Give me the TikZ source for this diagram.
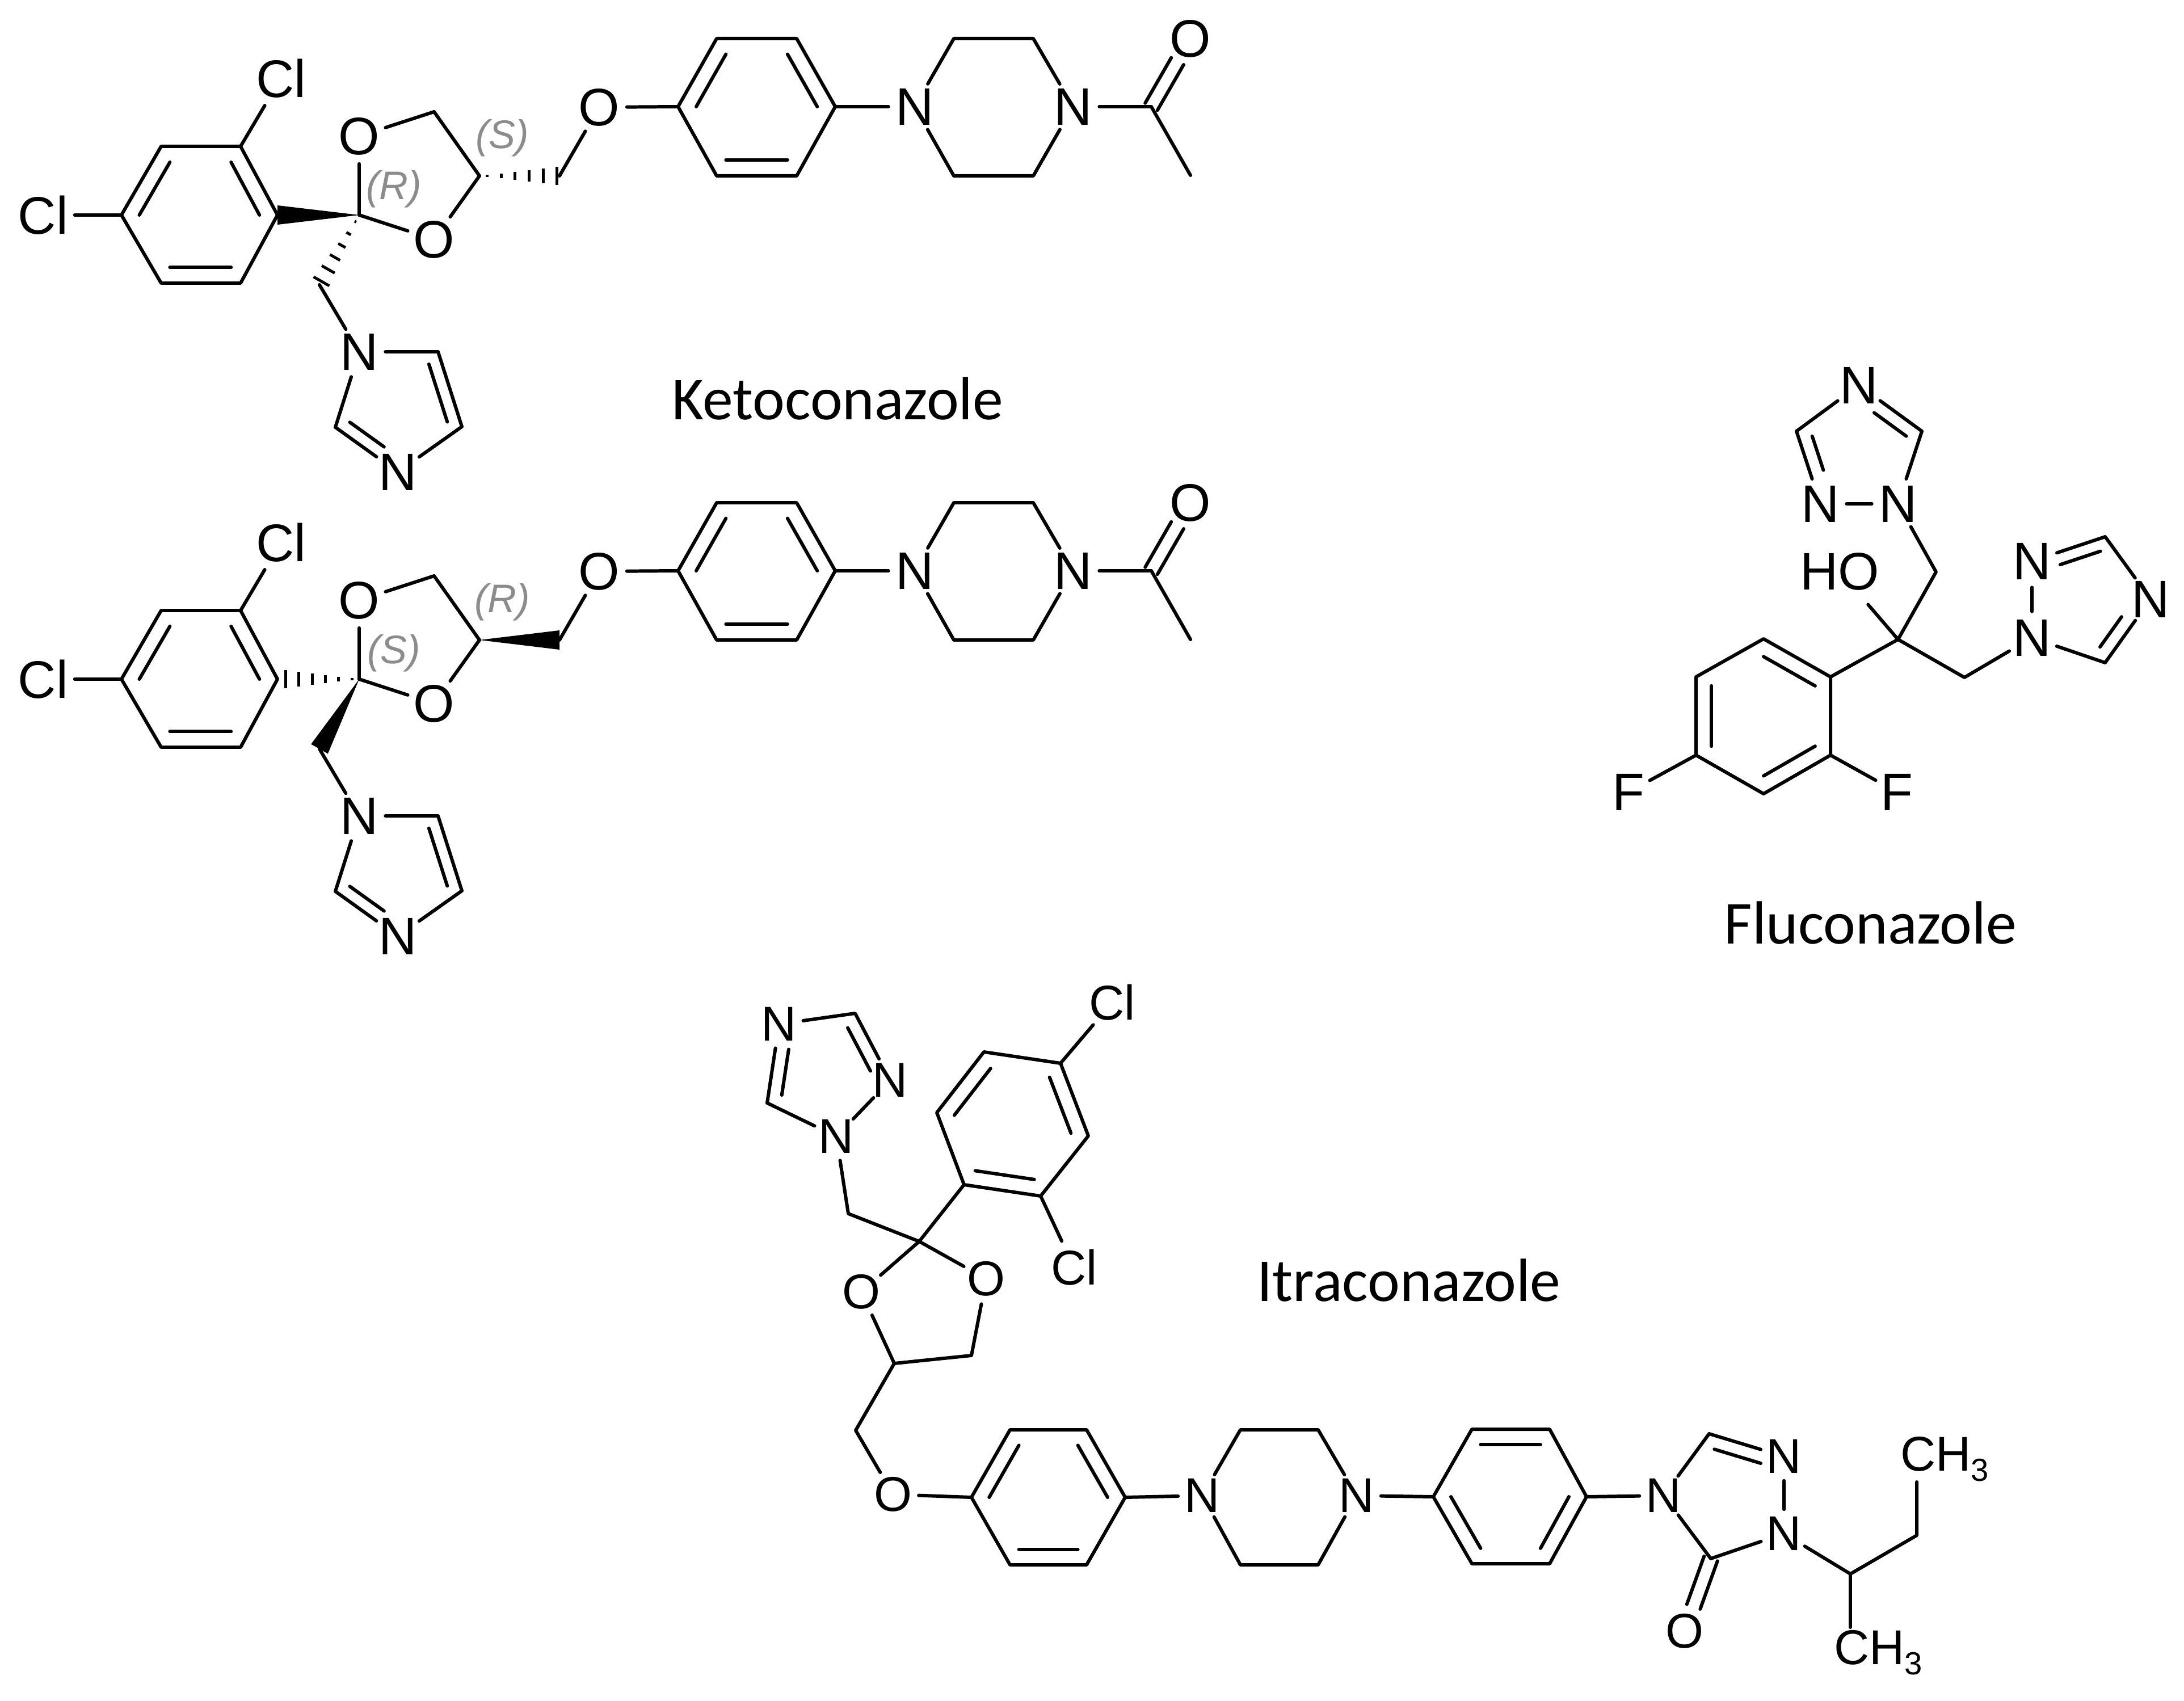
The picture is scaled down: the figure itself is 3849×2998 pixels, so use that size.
\documentclass[tikz,border=0pt]{standalone}
\usepackage{fontspec}
\setmainfont{Liberation Sans}
\newfontfamily\capfont{Carlito}
\usetikzlibrary{calc}
\definecolor{stereogray}{gray}{0.55}
\tikzset{
  x=0.01cm,y=-0.01cm,
  bond/.style={line width=1.7pt,line cap=round,line join=round,black},
  atom/.style={circle,inner sep=0pt,outer sep=0pt,font=\fontsize{26.5pt}{28pt}\selectfont},
  atomi/.style={atom,font=\fontsize{24.5pt}{26pt}\selectfont},
  free/.style={inner sep=0pt,outer sep=0pt,font=\fontsize{24.5pt}{26pt}\selectfont},
  caption/.style={anchor=base west,inner sep=0pt,font=\capfont\fontsize{30.6pt}{34pt}\selectfont},
  stereo/.style={inner sep=0pt,text=stereogray,font=\fontsize{20pt}{22pt}\selectfont\itshape},
}
% inner line of a double bond: a, b, ring centre, shrink factor; optional trim at b
\newcommand\innerl[4][0]{\draw[bond,shorten >=#1*0.01cm] ($(#4.center)!.77!(#2.center)$) -- ($(#4.center)!.77!(#3.center)$);}
% outer double bond straddling the bond axis, trimmed at b
\newcommand\dblout[2]{%
  \draw[bond,shorten >=46*0.01cm] ($(#1.center)!0.125cm!90:(#2.center)$) -- ($(#2.center)!0.125cm!-90:(#1.center)$);
  \draw[bond,shorten >=46*0.01cm] ($(#1.center)!0.125cm!-90:(#2.center)$) -- ($(#2.center)!0.125cm!90:(#1.center)$);}
% bold wedge, tip at a, wide at b
\newcommand\boldw[2]{\fill[black] (#1.center) -- ($(#2.center)!0.17cm!90:(#1.center)$) -- ($(#2.center)!0.17cm!-90:(#1.center)$) -- cycle;}
% hashed wedge, tip at a, wide at b
\newcommand\hashw[3][1]{\foreach \f in {.1,.28,.46,.64,.82,1}{%
  \pgfmathsetmacro\w{\f*0.16}%
  \pgfmathsetmacro\g{\f*#1}%
  \draw[line width=1.4pt,black] ($(#2.center)!\g!(#3.center)!\w cm!90:(#2.center)$) -- ($(#2.center)!\g!(#3.center)!\w cm!-90:(#2.center)$);}}
% one ketoconazole skeleton
\newcommand\keto[3]{%
  \coordinate (#1a1) at (214,379); \coordinate (#1a2) at (284,258); \coordinate (#1a3) at (424,258);
  \coordinate (#1a4) at (489,379); \coordinate (#1a5) at (424,499); \coordinate (#1a6) at (284,499);
  \coordinate (#1ac) at (351,379);
  \node[atom] (#1cla) at (495,138) {Cl};
  \node[atom] (#1clb) at (76,379) {Cl};
  \node[atom] (#1o1) at (633,240) {O};
  \node[atom] (#1o2) at (765,422) {O};
  \coordinate (#1q) at (633,379);
  \coordinate (#1ch) at (765,197);
  \coordinate (#1c4) at (845,310);
  \coordinate (#1cm) at (986,310);
  \coordinate (#1ci) at (563,502);
  \node[atom] (#1o3) at (1056,189) {O};
  \node[atom] (#1ni) at (633,620) {N};
  \coordinate (#1i2) at (772,620); \coordinate (#1i3) at (814,752);
  \node[atom] (#1nj) at (701,832) {N};
  \coordinate (#1i5) at (591,753); \coordinate (#1ic) at (702,715);
  \coordinate (#1b1) at (1195,188); \coordinate (#1b2) at (1263,68); \coordinate (#1b3) at (1404,68);
  \coordinate (#1b4) at (1472,188); \coordinate (#1b5) at (1404,310); \coordinate (#1b6) at (1263,310);
  \coordinate (#1bc) at (1334,188);
  \node[atom] (#1n1) at (1612,188) {N};
  \node[atom] (#1n2) at (1891,188) {N};
  \coordinate (#1p2) at (1681,68); \coordinate (#1p3) at (1821,68);
  \coordinate (#1p5) at (1821,310); \coordinate (#1p6) at (1681,310);
  \coordinate (#1co) at (2029,188);
  \node[atom] (#1ok) at (2098,68) {O};
  \coordinate (#1me) at (2098,309);
  \draw[bond] (#1a1) -- (#1a2) -- (#1a3) -- (#1a4) -- (#1a5) -- (#1a6) -- cycle;
  \innerl{#1a1}{#1a2}{#1ac} \innerl{#1a3}{#1a4}{#1ac} \innerl{#1a5}{#1a6}{#1ac}
  \draw[bond] (#1a3) -- (#1cla);
  \draw[bond] (#1a1) -- (#1clb);
  \draw[bond] (#1q) -- (#1o1);
  \draw[bond] (#1q) -- (#1o2);
  \draw[bond] (#1o1) -- (#1ch) -- (#1c4) -- (#1o2);
  \draw[bond] (#1cm) -- (#1o3);
  \draw[bond] (#1ci) -- (#1ni);
  \draw[bond] (#1ni) -- (#1i2) -- (#1i3) -- (#1nj) -- (#1i5) -- (#1ni);
  \innerl{#1i3}{#1i2}{#1ic}
  \draw[bond,shorten >=30*0.01cm] ($(#1ic.center)!.77!(#1i5.center)$) -- ($(#1ic.center)!.77!(#1nj.center)$);
  \draw[bond] (#1o3) -- (#1b1);
  \draw[bond] (#1b1) -- (#1b2) -- (#1b3) -- (#1b4) -- (#1b5) -- (#1b6) -- cycle;
  \innerl{#1b1}{#1b2}{#1bc} \innerl{#1b3}{#1b4}{#1bc} \innerl{#1b5}{#1b6}{#1bc}
  \draw[bond] (#1b4) -- (#1n1);
  \draw[bond] (#1n1) -- (#1p2) -- (#1p3) -- (#1n2) -- (#1p5) -- (#1p6) -- (#1n1);
  \draw[bond] (#1n2) -- (#1co);
  \draw[bond] (#1co) -- (#1me);
  \dblout{#1co}{#1ok}
  \node[stereo] (#1sa) at (694,333) {(#2)};
  \node[stereo] (#1sb) at (885,243) {(#3)};
}
\begin{document}
\begin{tikzpicture}
\fill[white] (0,0) rectangle (3849,2998);
\useasboundingbox (0,0) rectangle (3849,2998);

% ---------- Ketoconazole, two stereoisomers
\keto{k}{R}{S}
\boldw{kq}{ka4}
\hashw[.95]{kq}{kci}
\hashw[.97]{kc4}{kcm}
\begin{scope}[shift={(0,818)}]
\keto{m}{S}{R}
\end{scope}
\hashw[.9]{mq}{ma4}
\boldw{mq}{mci}
\boldw{mc4}{mcm}
\node[caption] (capk) at (1184,740) {Ketoconazole};

% ---------- Fluconazole
\node[atom] (fn1) at (3276,679) {N};
\coordinate (fc1) at (3387,760);
\node[atom] (fn2) at (3345,888) {N};
\node[atom] (fn3) at (3208,888) {N};
\coordinate (fc2) at (3166,760);
\coordinate (ftc) at (3277,795);
\coordinate (fch) at (3412,1008);
\coordinate (fq) at (3345,1127);
\node[atom] (fho) at (3242,1007) {HO};
\coordinate (fa1) at (3226,1193); \coordinate (fa2) at (3108,1126); \coordinate (fa3) at (2989,1193);
\coordinate (fa4) at (2989,1331); \coordinate (fa5) at (3108,1399); \coordinate (fa6) at (3226,1331);
\coordinate (fac) at (3108,1262);
\node[atom] (ffa) at (2870,1396) {F};
\node[atom] (ffb) at (3343,1396) {F};
\coordinate (fcr) at (3462,1194);
\node[atom] (fn4) at (3581,1124) {N};
\node[atom] (fn5) at (3581,989) {N};
\coordinate (fc3) at (3710,946);
\node[atom] (fn6) at (3790,1056) {N};
\coordinate (fc4) at (3710,1168);
\coordinate (frc) at (3674,1057);
\draw[bond] (fn1) -- (fc1) -- (fn2) -- (fn3) -- (fc2) -- (fn1);
\draw[bond,shorten <=33*0.01cm] ($(ftc.center)!.75!(fn1.center)$) -- ($(ftc.center)!.75!(fc1.center)$);
\draw[bond,shorten >=38*0.01cm] ($(ftc.center)!.75!(fc2.center)$) -- ($(ftc.center)!.75!(fn3.center)$);
\draw[bond] (fn2) -- (fch) -- (fq) -- (fho);
\draw[bond] (fq) -- (fa1);
\draw[bond] (fq) -- (fcr) -- (fn4);
\draw[bond] (fa1) -- (fa2) -- (fa3) -- (fa4) -- (fa5) -- (fa6) -- cycle;
\innerl{fa2}{fa1}{fac} \innerl{fa3}{fa4}{fac} \innerl{fa5}{fa6}{fac}
\draw[bond] (fa4) -- (ffa);
\draw[bond] (fa6) -- (ffb);
\draw[bond] (fn4) -- (fn5) -- (fc3) -- (fn6) -- (fc4) -- (fn4);
\draw[bond,shorten <=30*0.01cm] ($(frc.center)!.77!(fn5.center)$) -- ($(frc.center)!.77!(fc3.center)$);
\draw[bond,shorten >=38*0.01cm] ($(frc.center)!.75!(fc4.center)$) -- ($(frc.center)!.75!(fn6.center)$);
\node[caption] (capf) at (3038,1663) {Fluconazole};

% ---------- Itraconazole
\node[atomi] (in1) at (1373,1805) {N};
\coordinate (ic1) at (1507,1786);
\node[atomi] (in2) at (1569,1904) {N};
\node[atomi] (in3) at (1474,2003) {N};
\coordinate (ic2) at (1352,1944);
\coordinate (itc) at (1455,1888);
\coordinate (ich) at (1495,2139);
\coordinate (iq) at (1620,2188);
\node[atomi] (io1) at (1518,2277) {O};
\node[atomi] (io2) at (1738,2254) {O};
\coordinate (icd) at (1576,2403);
\coordinate (ice) at (1712,2389);
\coordinate (icf) at (1508,2521);
\node[atomi] (io3) at (1574,2634) {O};
\coordinate (ia1) at (1699,2088); \coordinate (ia2) at (1834,2108); \coordinate (ia3) at (1918,2002);
\coordinate (ia4) at (1869,1874); \coordinate (ia5) at (1734,1854); \coordinate (ia6) at (1651,1961);
\coordinate (iac) at (1785,1981);
\node[atomi] (icla) at (1960,1767) {Cl};
\node[atomi] (iclb) at (1893,2234) {Cl};
\draw[bond] (in1) -- (ic1) -- (in2) -- (in3) -- (ic2) -- (in1);
\draw[bond,shorten >=14*0.01cm] ($(itc.center)!.75!(ic1.center)$) -- ($(itc.center)!.75!(in2.center)$);
\draw[bond,shorten >=24*0.01cm] ($(itc.center)!.75!(ic2.center)$) -- ($(itc.center)!.75!(in1.center)$);
\draw[bond] (in3) -- (ich) -- (iq);
\draw[bond] (iq) -- (ia1);
\draw[bond] (ia1) -- (ia2) -- (ia3) -- (ia4) -- (ia5) -- (ia6) -- cycle;
\innerl{ia1}{ia2}{iac} \innerl{ia3}{ia4}{iac} \innerl{ia5}{ia6}{iac}
\draw[bond] (ia4) -- (icla);
\draw[bond] (ia2) -- (iclb);
\draw[bond] (iq) -- (io1) -- (icd) -- (ice) -- (io2) -- (iq);
\draw[bond] (icd) -- (icf) -- (io3);
\coordinate (ib1) at (1712,2639); \coordinate (ib2) at (1780,2520); \coordinate (ib3) at (1915,2520);
\coordinate (ib4) at (1983,2639); \coordinate (ib5) at (1915,2758); \coordinate (ib6) at (1780,2758);
\coordinate (ibc) at (1848,2639);
\draw[bond] (io3) -- (ib1);
\draw[bond] (ib1) -- (ib2) -- (ib3) -- (ib4) -- (ib5) -- (ib6) -- cycle;
\innerl{ib1}{ib2}{ibc} \innerl{ib3}{ib4}{ibc} \innerl{ib5}{ib6}{ibc}
\node[atomi] (in4) at (2119,2636) {N};
\node[atomi] (in5) at (2391,2636) {N};
\coordinate (ip2) at (2186,2520); \coordinate (ip3) at (2323,2520);
\coordinate (ip5) at (2323,2758); \coordinate (ip6) at (2186,2758);
\draw[bond] (ib4) -- (in4);
\draw[bond] (in4) -- (ip2) -- (ip3) -- (in5) -- (ip5) -- (ip6) -- (in4);
\coordinate (id1) at (2526,2638); \coordinate (id2) at (2594,2519); \coordinate (id3) at (2731,2519);
\coordinate (id4) at (2796,2638); \coordinate (id5) at (2731,2756); \coordinate (id6) at (2594,2756);
\coordinate (idc) at (2661,2638);
\draw[bond] (in5) -- (id1);
\draw[bond] (id1) -- (id2) -- (id3) -- (id4) -- (id5) -- (id6) -- cycle;
\innerl{id2}{id3}{idc} \innerl{id4}{id5}{idc} \innerl{id6}{id1}{idc}
\node[atomi] (in6) at (2932,2636) {N};
\coordinate (itd) at (3012,2527);
\node[atomi] (in7) at (3144,2567) {N};
\node[atomi] (in8) at (3144,2703) {N};
\coordinate (ite) at (3015,2747);
\coordinate (itz) at (3049,2636);
\node[atomi] (io4) at (2969,2875) {O};
\draw[bond] (id4) -- (in6);
\draw[bond] (in6) -- (itd) -- (in7) -- (in8) -- (ite) -- (in6);
\draw[bond,shorten >=18*0.01cm] ($(itz.center)!.75!(itd.center)$) -- ($(itz.center)!.75!(in7.center)$);
\dblout{ite}{io4}
\coordinate (isa) at (3261,2774);
\coordinate (isb) at (3378,2706);
\coordinate (isc) at (3378,2612);
\coordinate (isd) at (3261,2868);
\draw[bond] (in8) -- (isa) -- (isb) -- (isc);
\draw[bond] (isa) -- (isd);
\node[free,anchor=base west] (ime1) at (3349,2592) {CH\raisebox{-0.22em}{\fontsize{16pt}{18pt}\selectfont 3}};
\node[free,anchor=base west] (ime2) at (3232,2933) {CH\raisebox{-0.22em}{\fontsize{16pt}{18pt}\selectfont 3}};
\node[caption] (capi) at (2215,2293) {Itraconazole};
\end{tikzpicture}
\end{document}
